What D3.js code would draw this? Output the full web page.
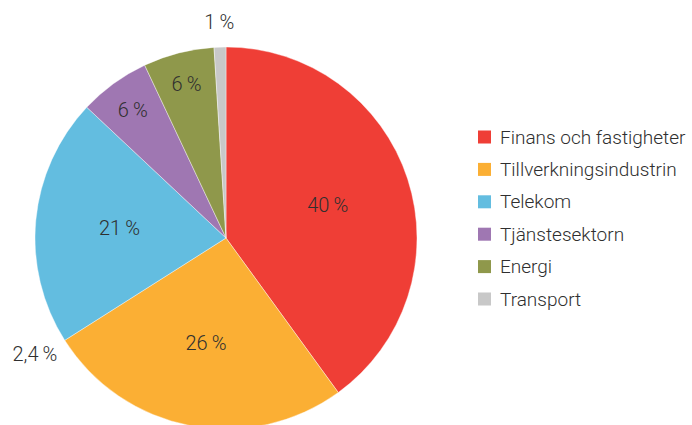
<!DOCTYPE html>
<html>
<head>
<meta charset="utf-8">
<script src="https://d3js.org/d3.v7.min.js"></script>
<style>
	body { margin: 0; background: #fff; }
	text { font-family: Roboto, "Open Sans", sans-serif; font-weight: 300; fill: #2f2f2f; }
</style>
</head>
<body>
<script>

const sectors = ["Finans och fastigheter", "Tillverkningsindustrin", "Telekom", "Tjänstesektorn", "Energi", "Transport"];
const shares = [40, 26, 21, 6, 6, 1];
const labels = ["40\u2009%", "26\u2009%", "21\u2009%", "6\u2009%", "6\u2009%", "1\u2009%"];
const colors = ["#ef3e36", "#fbaf34", "#63bde0", "#9f77b2", "#8f984b", "#c8c8c8"];
// stray label printed beside the orange/blue boundary
const extraLabel = "2,4\u2009%";

const width = 692, height = 425;
const cx = 226, cy = 238, radius = 191;

const svg = d3.select("body").append("svg")
	.attr("width", width)
	.attr("height", height);

const pie = d3.pie().sort(null).value(d => d)(shares);
const arc = d3.arc().innerRadius(0).outerRadius(radius);

const g = svg.append("g").attr("transform", "translate(" + cx + "," + cy + ")");

g.selectAll("path")
	.data(pie)
	.enter()
	.append("path")
	.attr("d", arc)
	.attr("fill", (d, i) => colors[i])
	.attr("stroke", "#fff")
	.attr("stroke-width", 0.4);

function labelRadius(v) {
	if (v < 2) return radius * 1.13;
	if (v < 10) return radius * 0.83;
	return radius * 0.56;
}

g.selectAll(".lbl")
	.data(pie)
	.enter()
	.append("text")
	.attr("class", "lbl")
	.attr("transform", d => {
		const r = labelRadius(d.value);
		return "translate(" + d3.arc().innerRadius(r).outerRadius(r).centroid(d) + ")";
	})
	.attr("text-anchor", "middle")
	.attr("dy", "0.35em")
	.style("font-size", "20px")
	.text((d, i) => labels[i]);

// extra label at the end of the orange slice
const a = pie[1].endAngle + 0.02, r2 = radius * 1.17;
g.append("text")
	.attr("x", r2 * Math.sin(a))
	.attr("y", -r2 * Math.cos(a))
	.attr("text-anchor", "middle")
	.attr("dy", "0.35em")
	.style("font-size", "20px")
	.text(extraLabel);

const legend = svg.append("g").attr("transform", "translate(478,137)");
const row = legend.selectAll("g")
	.data(sectors)
	.enter()
	.append("g")
	.attr("transform", (d, i) => "translate(0," + i * 32.4 + ")");

row.append("rect")
	.attr("x", 0)
	.attr("y", -6.5)
	.attr("width", 13)
	.attr("height", 13)
	.attr("fill", (d, i) => colors[i]);

row.append("text")
	.attr("x", 22)
	.attr("dy", "0.35em")
	.style("font-size", "19px")
	.text(d => d);

</script>
</body>
</html>
